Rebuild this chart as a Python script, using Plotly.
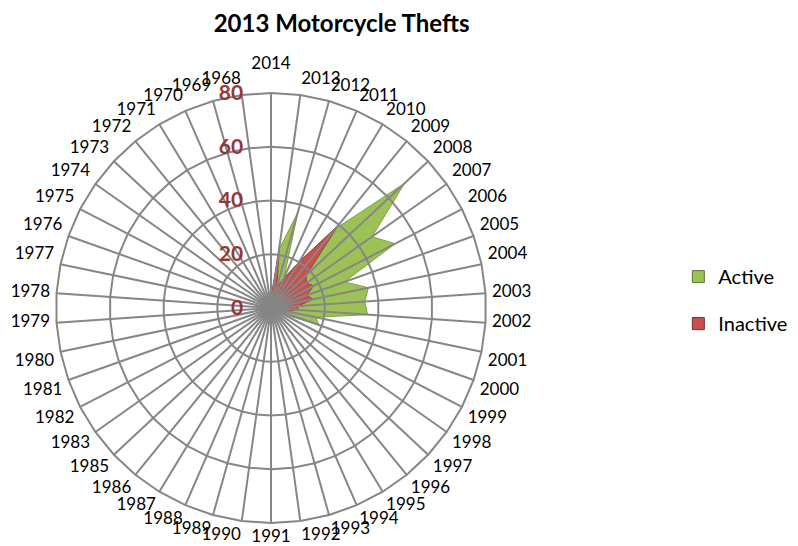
import plotly.graph_objects as go

years = [
    "2014", "2013", "2012", "2011", "2010", "2009", "2008", "2007", "2006", "2005",
    "2004", "2003", "2002", "2001", "2000", "1999", "1998", "1997", "1996", "1995",
    "1994", "1993", "1992", "1991", "1990", "1989", "1988", "1987", "1986", "1985",
    "1983", "1982", "1981", "1980", "1979", "1978", "1977", "1976", "1975", "1974",
    "1973", "1972", "1971", "1970", "1969", "1968",
]

active = [
    2, 22, 37, 12, 20, 38, 68, 46, 52, 29,
    37, 35, 36, 17, 19, 5, 2, 0, 0, 0,
    0, 0, 0, 0, 0, 0, 0, 0, 0, 0,
    0, 0, 0, 0, 0, 0, 0, 0, 0, 0,
    0, 0, 0, 0, 0, 0,
]

inactive = [
    4, 23, 8, 12, 20, 40, 18, 16, 18, 14,
    16, 10, 10, 6, 4, 2, 0, 0, 0, 0,
    0, 0, 0, 0, 0, 0, 0, 0, 0, 0,
    0, 0, 0, 0, 0, 0, 0, 0, 0, 0,
    0, 0, 0, 0, 0, 0,
]

rings = [20, 40, 60, 80]
r_max = 80

GRID = "#868686"
GREEN = "#9CC255"
RED = "#C9504C"

fig = go.Figure()

fig.add_trace(
    go.Scatterpolar(
        r=active + active[:1],
        theta=years + years[:1],
        name="Active",
        mode="lines",
        fill="toself",
        fillcolor=GREEN,
        line=dict(color="#7FA040", width=1),
        showlegend=False,
    )
)

fig.add_trace(
    go.Scatterpolar(
        r=inactive + inactive[:1],
        theta=years + years[:1],
        name="Inactive",
        mode="lines",
        fill="toself",
        fillcolor=RED,
        line=dict(color="#A33E3B", width=1),
        showlegend=False,
    )
)

# grid drawn over the filled areas, like the original
spoke_r = []
spoke_t = []
for y in years:
    spoke_r += [0, r_max, None]
    spoke_t += [y, y, None]
fig.add_trace(
    go.Scatterpolar(
        r=spoke_r, theta=spoke_t, mode="lines",
        line=dict(color=GRID, width=2), hoverinfo="skip", showlegend=False,
    )
)
for ring in rings:
    fig.add_trace(
        go.Scatterpolar(
            r=[ring] * (len(years) + 1), theta=years + years[:1], mode="lines",
            line=dict(color=GRID, width=2), hoverinfo="skip", showlegend=False,
        )
    )

# category labels just outside the outer ring, anchored by direction
def label_pos(i):
    a = i * 360 / len(years)
    if a < 4 or a > 356:
        return "top center"
    if a < 80:
        return "top right"
    if a <= 100:
        return "middle right"
    if a < 176:
        return "bottom right"
    if a <= 184:
        return "bottom center"
    if a < 260:
        return "bottom left"
    if a <= 280:
        return "middle left"
    return "top left"


label_anchor = [label_pos(i) for i in range(len(years))]
label_r = [r_max * (1.09 if p == "top center" else 1.03) for p in label_anchor]

fig.add_trace(
    go.Scatterpolar(
        r=label_r, theta=years, text=years, mode="text",
        textposition=label_anchor,
        textfont=dict(size=17, color="black"),
        cliponaxis=False, hoverinfo="skip", showlegend=False,
    )
)

# legend entries with square swatches
for name, color, edge, grp in [("Active", GREEN, "#5E7530", "a"), ("Inactive", RED, "#7A2B29", "b")]:
    fig.add_trace(
        go.Scatterpolar(
            r=[None], theta=[years[0]], name=name, mode="markers",
            marker=dict(symbol="square", size=12, color=color, line=dict(color=edge, width=1)),
            legendgroup=grp,
        )
    )

fig.update_layout(
    width=798,
    height=546,
    paper_bgcolor="white",
    plot_bgcolor="white",
    margin=dict(l=0, r=0, t=0, b=0),
    font=dict(family="Lato", color="black"),
    title=dict(
        text="<b>2013 Motorcycle Thefts</b>",
        x=0.418, xanchor="center", y=0.972, yanchor="middle",
        font=dict(size=24, color="black"),
    ),
    legend=dict(
        x=0.84, y=0.465, xanchor="left", yanchor="middle",
        font=dict(size=20),
        tracegroupgap=18,
        itemwidth=30,
    ),
    polar=dict(
        # radial range runs past the outer ring so the year labels fit inside
        domain=dict(x=[0.0265, 0.6327], y=[0.0075, 0.8936]),
        bgcolor="white",
        angularaxis=dict(
            type="category",
            categoryarray=years,
            rotation=90,
            direction="clockwise",
            showgrid=False,
            showline=False,
            showticklabels=False,
            ticks="",
        ),
        radialaxis=dict(
            range=[0, 90],
            tickvals=[0, 20, 40, 60, 80],
            angle=90,
            tickangle=90,
            side="counterclockwise",
            showgrid=False,
            showline=False,
            ticks="outside",
            ticklen=20,
            tickcolor="rgba(0,0,0,0)",
            tickfont=dict(size=21, color="#953735", weight="bold"),
        ),
    ),
)

fig.write_html("out.html")
